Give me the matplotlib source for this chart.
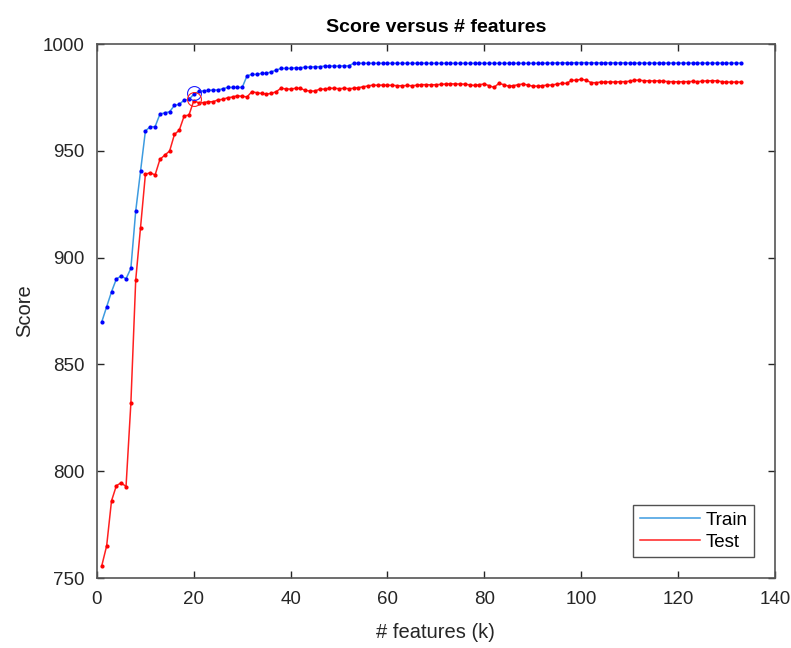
import matplotlib.pyplot as plt
import numpy as np

plt.rcParams['font.family'] = ['Liberation Sans', 'DejaVu Sans']

# number of features k = 1..133
k = np.arange(1, 134)

train = [870.0, 877.0, 884.0, 890.0, 891.4, 890.1, 895.0, 921.8, 940.5, 959.3,
         961.3, 961.3, 967.2, 967.8, 968.3, 971.3, 971.8, 973.8, 974.1, 976.5,
         977.8, 978.1, 978.3, 978.5, 978.5, 979.1, 979.7, 979.7, 979.7, 979.7,
         985.2, 985.8, 985.8, 986.3, 986.3, 987.0, 987.8, 988.6, 988.6, 988.6,
         988.9, 988.9, 989.2, 989.2, 989.4, 989.4, 989.7, 989.7, 989.7, 989.7,
         989.8, 989.8, 991.0, 991.0, 991.0, 991.0, 991.0, 991.0, 991.0, 991.0,
         991.0, 991.0, 991.0, 991.0, 991.0, 991.0, 991.1, 991.0, 991.0, 991.0,
         991.0, 991.0, 991.0, 991.0, 991.0, 991.0, 991.0, 991.0, 991.0, 991.0,
         991.0, 991.0, 991.0, 991.0, 991.0, 991.0, 991.0, 991.0, 991.0, 991.0,
         991.0, 991.0, 991.1, 991.1, 991.2, 991.2, 991.2, 991.2, 991.3, 991.3,
         991.3, 991.2, 991.2, 991.2, 991.2, 991.2, 991.2, 991.2, 991.2, 991.1,
         991.1, 991.1, 991.1, 991.1, 991.1, 991.1, 991.1, 991.1, 991.1, 991.1,
         991.1, 991.1, 991.1, 991.1, 991.1, 991.1, 991.1, 991.1, 991.1, 991.1,
         991.1, 991.1, 991.1]

test = [755.8, 765.1, 786.1, 793.2, 794.6, 792.8, 831.8, 889.5, 914.0, 939.0,
        939.8, 938.7, 946.0, 948.0, 949.9, 957.7, 959.7, 966.3, 966.8, 973.5,
        972.5, 972.6, 973.0, 973.0, 973.9, 974.1, 974.9, 975.2, 975.8, 975.5,
        975.3, 977.7, 977.2, 976.9, 976.6, 976.9, 977.7, 979.3, 979.0, 978.9,
        979.3, 979.3, 978.3, 978.0, 978.0, 978.9, 978.9, 979.3, 979.3, 979.1,
        979.3, 979.1, 979.3, 979.6, 980.0, 980.4, 980.8, 980.7, 980.8, 980.7,
        980.7, 980.5, 980.5, 980.6, 980.5, 980.7, 981.0, 981.0, 980.9, 981.0,
        981.1, 981.3, 981.4, 981.3, 981.3, 981.2, 980.9, 980.6, 981.0, 981.3,
        980.5, 979.7, 981.6, 981.0, 980.3, 980.5, 981.0, 981.3, 980.8, 980.3,
        980.3, 980.5, 980.8, 980.8, 981.3, 981.6, 981.6, 983.0, 983.1, 983.5,
        983.1, 982.0, 981.9, 982.2, 982.2, 982.3, 982.2, 982.4, 982.4, 982.6,
        983.1, 983.1, 982.8, 982.8, 982.7, 982.8, 982.6, 982.4, 982.4, 982.3,
        982.4, 982.4, 982.5, 982.4, 982.6, 982.8, 982.8, 982.8, 982.4, 982.2,
        982.2, 982.2, 982.2]

best_k = 20

fig = plt.figure(figsize=(7.91, 6.48), dpi=100)
ax = fig.add_axes([0.1226, 0.108, 0.857, 0.824])

l1, = ax.plot(k, train, color='#3d9be0', lw=1.1, label='Train')
ax.plot(k, train, ls='none', marker='.', ms=4, color='#0000ff')
l2, = ax.plot(k, test, color='#ff2020', lw=1.1, label='Test')
ax.plot(k, test, ls='none', marker='.', ms=4, color='#ff0000')

# chosen number of features
ax.plot(best_k, 977.0, marker='o', ms=10, mfc='none', mec='#2020ff', mew=0.8)
ax.plot(best_k, 974.5, marker='o', ms=10, mfc='none', mec='#ff2020', mew=0.8)

ax.set_xlim(0, 140)
ax.set_ylim(750, 1000)
ax.set_xticks(np.arange(0, 141, 20))
ax.set_yticks(np.arange(750, 1001, 50))
ax.tick_params(direction='in', top=True, right=True, labelsize=13.5,
               colors='#262626', length=5, width=1, pad=9)
for s in ax.spines.values():
    s.set_color('#555555')
    s.set_linewidth(1.2)

ax.set_xlabel('# features (k)', fontsize=14.5, color='#262626', labelpad=11)
ax.set_ylabel('Score', fontsize=14.5, color='#262626', labelpad=6)
ax.set_title('Score versus # features', fontsize=14, fontweight='bold', pad=9)

leg = ax.legend(handles=[l1, l2], loc='lower right', fontsize=13.5, frameon=True,
                fancybox=False, edgecolor='#262626', handlelength=3.2,
                borderaxespad=1.1, handletextpad=0.3, labelspacing=0.25,
                borderpad=0.35)
leg.get_frame().set_linewidth(1.0)

fig.savefig('out.png', dpi=100)
